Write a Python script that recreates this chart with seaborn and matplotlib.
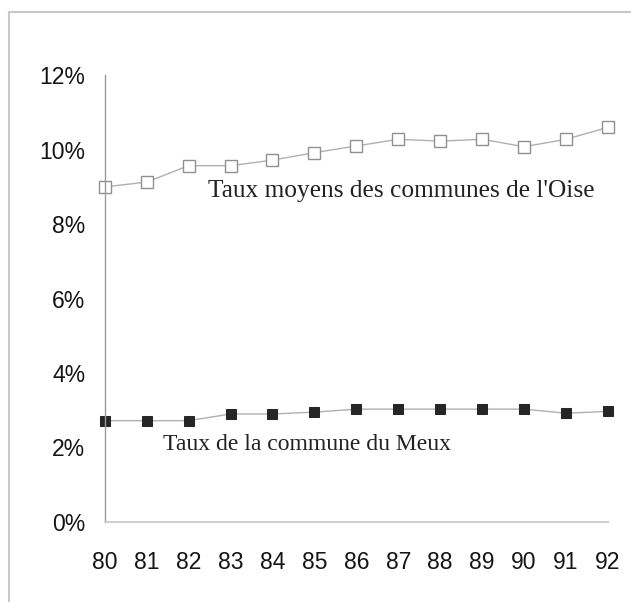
import matplotlib
matplotlib.use("Agg")
import matplotlib.pyplot as plt
import seaborn as sns
from matplotlib.lines import Line2D
from matplotlib.ticker import PercentFormatter

# Données (taux en %)
annees = [80, 81, 82, 83, 84, 85, 86, 87, 88, 89, 90, 91, 92]
taux_oise = [9.0, 9.13, 9.57, 9.57, 9.72, 9.92, 10.1, 10.28, 10.23, 10.28, 10.08, 10.28, 10.6]
taux_meux = [2.72, 2.72, 2.72, 2.9, 2.9, 2.95, 3.03, 3.03, 3.03, 3.03, 3.03, 2.92, 2.97]
yticks = [0, 2, 4, 6, 8, 10, 12]

sns.set_style("white")
plt.rcParams['font.family'] = ['Liberation Sans', 'DejaVu Sans']

fig = plt.figure(figsize=(6.31, 6.02), dpi=100)
ax = fig.add_axes([0.166, 0.133, 0.7975, 0.742])

# cadre autour du graphique (haut et gauche)
fig.add_artist(Line2D([0.014, 1.0], [0.980, 0.980], color='#c8c8c8', lw=1.5))
fig.add_artist(Line2D([0.015, 0.015], [0.0, 0.980], color='#c8c8c8', lw=1.5))

sns.lineplot(x=annees, y=taux_oise, ax=ax, color='#b0b0b0', lw=1, marker='s',
             markersize=9, markerfacecolor='white', markeredgecolor='#909090',
             markeredgewidth=1, clip_on=False)
sns.lineplot(x=annees, y=taux_meux, ax=ax, color='#b0b0b0', lw=1, marker='s',
             markersize=6.5, markerfacecolor='#262626', markeredgecolor='#262626',
             clip_on=False)

ax.text(82.46, 8.9, "Taux moyens des communes de l'Oise", family='Liberation Serif',
        fontsize=18.3, color='#222222', va='center', ha='left')
ax.text(81.4, 2.07, "Taux de la commune du Meux", family='Liberation Serif',
        fontsize=17, color='#222222', va='center', ha='left')

ax.set_xlim(80, 92)
ax.set_ylim(0, 12)
ax.set_xticks(annees)
ax.set_yticks(yticks)
ax.yaxis.set_major_formatter(PercentFormatter(100, decimals=0))

for s in ['top', 'right']:
    ax.spines[s].set_visible(False)
ax.spines['left'].set_color('#9a9a9a')
ax.spines['left'].set_linewidth(1)
ax.spines['bottom'].set_color('#d0d0d0')
ax.spines['bottom'].set_linewidth(1.5)

ax.tick_params(axis='y', direction='inout', length=6, color='#bbbbbb',
               labelsize=16.5, labelcolor='#151515', pad=11)
ax.tick_params(axis='x', direction='out', length=6, color='#cccccc',
               labelsize=16.5, labelcolor='#151515', pad=15)
ax.set_xlabel('')
ax.set_ylabel('')

fig.savefig('out.png', dpi=100)
